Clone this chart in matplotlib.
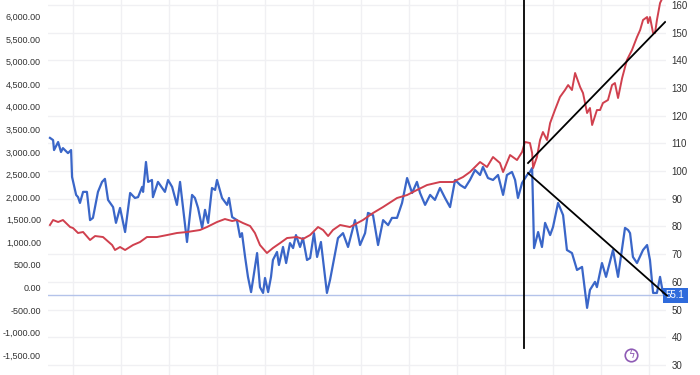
import matplotlib
matplotlib.use("Agg")
import matplotlib.pyplot as plt
from matplotlib.ticker import FuncFormatter, MultipleLocator

# red series (left axis), decimal years
red_t = [2000.04, 2000.17, 2000.38, 2000.58, 2000.88, 2001.0, 2001.21, 2001.42, 2001.71, 2001.92,
         2002.25, 2002.63, 2002.75, 2002.96, 2003.17, 2003.5, 2003.79, 2004.08, 2004.5, 2004.92,
         2005.33, 2005.75, 2006.29, 2006.58, 2007.0, 2007.33, 2007.63, 2007.83, 2008.08, 2008.38,
         2008.58, 2008.79, 2009.08, 2009.33, 2009.63, 2009.92, 2010.33, 2010.58, 2010.88, 2011.21,
         2011.42, 2011.63, 2011.83, 2012.13, 2012.54, 2013.08, 2013.5, 2013.92, 2014.5, 2014.92,
         2015.33, 2015.75, 2016.29, 2016.83, 2017.25, 2017.54, 2017.96, 2018.25, 2018.5, 2018.79,
         2018.92, 2019.21, 2019.5, 2019.71, 2019.83, 2020.04, 2020.13, 2020.17, 2020.33, 2020.46,
         2020.58, 2020.75, 2020.88, 2021.08, 2021.29, 2021.5, 2021.63, 2021.79, 2021.92, 2022.13,
         2022.25, 2022.42, 2022.54, 2022.63, 2022.83, 2022.96, 2023.08, 2023.29, 2023.46, 2023.58,
         2023.71, 2023.88, 2024.08, 2024.29, 2024.5, 2024.63, 2024.75, 2024.92, 2024.96, 2025.04,
         2025.17, 2025.25, 2025.33, 2025.46, 2025.58]
red_v = [1383, 1493, 1449, 1493, 1338, 1316, 1206, 1228, 1051, 1139,
         1117, 940, 830, 896, 830, 940, 1006, 1117, 1117, 1161,
         1206, 1228, 1272, 1338, 1449, 1515, 1471, 1493, 1427, 1360,
         1206, 940, 763, 874, 984, 1095, 1117, 1073, 1161, 1338,
         1272, 1139, 1272, 1383, 1338, 1493, 1648, 1781, 1980, 2046,
         2157, 2267, 2334, 2334, 2444, 2555, 2776, 2666, 2887, 2754,
         2555, 2931, 2820, 2997, 3219, 3196, 2975, 2643, 2887, 3263,
         3440, 3263, 3639, 3926, 4214, 4369, 4479, 4369, 4745, 4435,
         4302, 3860, 3971, 3595, 3926, 3926, 4081, 4148, 4479, 4523,
         4192, 4634, 5032, 5253, 5541, 5696, 5917, 5983, 5850, 5983,
         5629, 5629, 5917, 6293, 6426]

# blue series (right axis)
blue_t = [2000.04, 2000.17, 2000.21, 2000.38, 2000.5, 2000.58, 2000.79, 2000.92, 2000.96, 2001.13,
          2001.21, 2001.29, 2001.42, 2001.58, 2001.71, 2001.83, 2002.04, 2002.21, 2002.33, 2002.46,
          2002.67, 2002.79, 2002.96, 2003.17, 2003.38, 2003.58, 2003.71, 2003.88, 2003.92, 2004.04,
          2004.13, 2004.29, 2004.33, 2004.54, 2004.83, 2004.96, 2005.13, 2005.33, 2005.46, 2005.75,
          2005.96, 2006.08, 2006.21, 2006.38, 2006.5, 2006.63, 2006.79, 2006.92, 2007.0, 2007.21,
          2007.42, 2007.5, 2007.63, 2007.83, 2007.96, 2008.04, 2008.17, 2008.29, 2008.42, 2008.5,
          2008.67, 2008.79, 2008.92, 2009.0, 2009.13, 2009.25, 2009.33, 2009.5, 2009.58, 2009.75,
          2009.88, 2010.04, 2010.17, 2010.29, 2010.46, 2010.58, 2010.75, 2010.88, 2011.04, 2011.17,
          2011.33, 2011.58, 2011.71, 2011.92, 2012.04, 2012.25, 2012.46, 2012.75, 2012.96, 2013.17,
          2013.29, 2013.5, 2013.71, 2013.92, 2014.13, 2014.29, 2014.5, 2014.71, 2014.92, 2015.13,
          2015.33, 2015.46, 2015.67, 2015.88, 2016.08, 2016.29, 2016.5, 2016.71, 2016.92, 2017.13,
          2017.33, 2017.54, 2017.75, 2017.96, 2018.08, 2018.29, 2018.5, 2018.71, 2018.92, 2019.08,
          2019.29, 2019.42, 2019.54, 2019.71, 2019.92, 2020.04, 2020.13, 2020.21, 2020.38, 2020.54,
          2020.67, 2020.88, 2021.0, 2021.21, 2021.42, 2021.58, 2021.79, 2022.0, 2022.21, 2022.42,
          2022.54, 2022.75, 2022.83, 2023.04, 2023.21, 2023.5, 2023.71, 2024.0, 2024.13, 2024.21,
          2024.33, 2024.5, 2024.75, 2024.92, 2025.04, 2025.17, 2025.33, 2025.46, 2025.58, 2025.67]
blue_v = [112.0, 111.2, 107.6, 110.5, 106.9, 108.3, 106.5, 107.6, 97.9, 91.4,
          90.6, 88.5, 92.5, 92.5, 82.3, 83.1, 92.5, 96.1, 97.2, 89.6,
          87.0, 81.3, 86.7, 78.0, 92.1, 90.3, 90.6, 94.3, 92.5, 103.3,
          96.1, 96.8, 90.6, 96.1, 92.5, 96.8, 94.3, 87.8, 96.1, 74.4,
          91.4, 90.3, 86.7, 79.5, 86.0, 81.3, 93.9, 93.2, 96.8, 90.3,
          87.8, 90.3, 83.4, 82.3, 76.2, 77.6, 69.0, 61.8, 56.3, 60.7,
          70.4, 58.1, 56.0, 61.4, 56.3, 61.8, 67.9, 70.8, 66.1, 72.6,
          66.8, 74.0, 72.2, 76.9, 72.6, 75.8, 67.9, 68.6, 77.6, 69.0,
          74.4, 56.0, 60.7, 70.4, 75.8, 77.6, 72.6, 82.3, 73.3, 77.6,
          84.9, 84.1, 73.3, 82.3, 80.5, 83.1, 83.1, 88.5, 97.5, 92.1,
          96.1, 92.1, 87.8, 91.4, 89.6, 93.9, 90.3, 87.0, 96.8, 95.0,
          93.9, 96.8, 100.4, 98.6, 101.5, 97.5, 96.8, 98.6, 91.4, 98.6,
          99.7, 96.8, 90.3, 95.7, 98.6, 99.7, 101.1, 72.2, 78.0, 72.6,
          81.3, 76.9, 79.8, 88.5, 84.1, 71.5, 70.4, 64.3, 65.4, 50.6,
          57.1, 60.0, 58.1, 66.8, 61.8, 71.5, 61.8, 79.5, 78.7, 77.6,
          69.0, 66.8, 71.5, 73.3, 67.9, 56.0, 56.0, 61.8, 56.0, 55.1]

last_blue = 55.1
split_t = 2019.79
up_line_t = [2019.96, 2025.67]
up_line_v = [2754, 5873]
down_line_t = [2019.96, 2025.75]
down_line_v = [99.3, 55.0]

RED = "#d0404e"
BLUE = "#3a66c8"
GRID = "#f0f0f3"
TXT = "#333333"
FONT = "Liberation Sans"

fig = plt.figure(figsize=(7, 3.75), dpi=100)
# base axes: grid + blue (right scale); top axes: red + black lines (left scale)
axr = fig.add_axes([48 / 700, 0, (666 - 48) / 700, 1])
axl = axr.twinx()
axr.yaxis.tick_right()
axl.yaxis.tick_left()
axl.patch.set_visible(False)

axr.set_xlim(1999.958, 2025.708)
axr.set_ylim(26.36, 161.8)
axl.set_ylim(-1935, 6360)

axr.xaxis.set_major_locator(MultipleLocator(2, offset=1))
axr.yaxis.set_major_locator(MultipleLocator(10))
axr.grid(color=GRID, lw=1)
axr.set_axisbelow(True)
axl.grid(False)
axl.yaxis.set_major_locator(MultipleLocator(500))
axl.yaxis.set_major_formatter(FuncFormatter(lambda v, _: f"{v:,.2f}"))
axr.yaxis.set_major_formatter(FuncFormatter(lambda v, _: f"{v:.0f}"))

for a in (axr, axl):
    for s in a.spines.values():
        s.set_visible(False)
axr.tick_params(axis="x", length=0, labelbottom=False)
axr.tick_params(axis="y", length=0, pad=4, labelsize=7, labelcolor=TXT)
axl.tick_params(axis="y", length=0, pad=5, labelsize=6.5, labelcolor=TXT)
for lab in axl.get_yticklabels() + axr.get_yticklabels():
    lab.set_fontfamily(FONT)

axr.axhline(last_blue, color="#b4c3ea", lw=1, zorder=1)
axr.plot(blue_t, blue_v, color=BLUE, lw=1.6, zorder=3)
axr.plot(down_line_t, down_line_v, color="black", lw=1.3, zorder=6, clip_on=False)
axl.plot(red_t, red_v, color=RED, lw=1.4, zorder=3)
axl.axvline(split_t, ymin=0.072, ymax=1, color="black", lw=1.3, zorder=5)
axl.plot(up_line_t, up_line_v, color="black", lw=1.3, zorder=5)

axr.text(1.0, last_blue, f"{last_blue}", transform=axr.get_yaxis_transform(),
         ha="left", va="center", fontsize=7, color="white", zorder=4, family=FONT,
         bbox=dict(boxstyle="square,pad=0.3", fc="#2f6bdc", ec="none"))

axl.plot([0.902], [0.053], transform=fig.transFigure, marker="o", ms=9,
         mfc="none", mec="#8e5bb5", mew=1.2, clip_on=False)
fig.text(0.902, 0.053, "ϟ", color="#8e5bb5", fontsize=7, ha="center", va="center")

fig.savefig("out.png", dpi=100)
